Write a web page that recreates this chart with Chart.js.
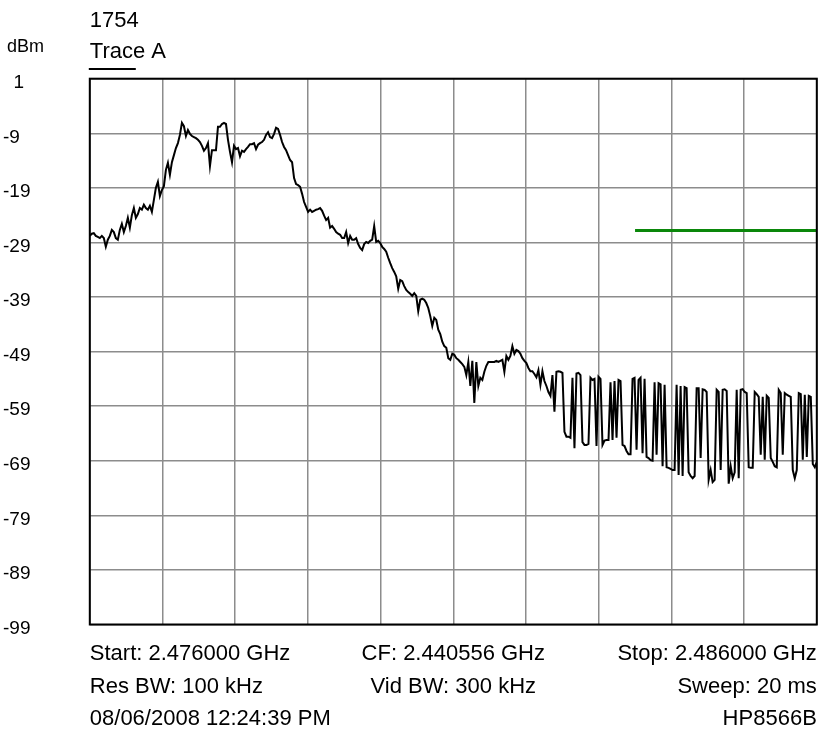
<!DOCTYPE html>
<html>
<head>
<meta charset="utf-8">
<script src="https://cdn.jsdelivr.net/npm/chart.js@4.4.1/dist/chart.umd.min.js"></script>
<style>
html,body{margin:0;padding:0;background:#ffffff;}
#wrap{width:820px;height:729px;position:relative;}
</style>
</head>
<body>
<div id="wrap"><canvas id="c" width="820" height="729"></canvas></div>
<script>
// ---- data ----
const startMHz = 2476;
const stopMHz = 2486;
const freqGridMHz = [2476, 2477, 2478, 2479, 2480, 2481, 2482, 2483, 2484, 2485, 2486];

// Trace A levels (dBm), evenly spaced across the sweep
const traceLevels = [
  -27.8, -27.4, -27.3, -27.8, -28.0, -28.2, -27.8, -28.2, -29.8, -28.5,
  -27.8, -26.7, -27.1, -28.2, -28.5, -26.7, -25.6, -27.1, -26.0, -24.5,
  -26.3, -24.0, -22.7, -24.5, -23.8, -22.7, -23.0, -22.1, -22.7, -23.0,
  -22.3, -23.4, -21.2, -19.0, -17.9, -20.5, -19.4, -18.7, -15.7, -14.4,
  -16.6, -14.3, -13.0, -11.7, -10.8, -9.3, -7.1, -7.7, -9.5, -8.4,

  -9.1, -9.5, -9.7, -9.9, -10.2, -10.6, -11.3, -12.2, -11.7, -10.8,
  -15.0, -12.1, -12.1, -12.1, -7.8, -7.8, -7.3, -7.1, -7.3, -10.2,
  -12.4, -14.3, -11.3, -11.9, -11.7, -13.2, -12.2, -12.4, -11.9, -11.5,
  -11.0, -11.0, -10.8, -11.9, -11.1, -10.8, -10.6, -10.2, -9.3, -8.8,
  -9.7, -9.9, -9.1, -8.0, -8.2, -9.3, -10.6, -11.5, -12.1, -13.0,

  -13.9, -14.3, -17.2, -18.3, -18.5, -18.8, -20.1, -21.6, -22.5, -23.4,
  -23.0, -23.4, -23.2, -23.0, -22.9, -22.7, -23.2, -24.1, -24.9, -24.5,
  -26.3, -26.0, -26.5, -27.1, -27.4, -27.6, -28.2, -28.2, -27.1, -29.1,
  -27.8, -28.5, -28.5, -28.2, -29.3, -30.0, -30.4, -29.3, -28.9, -29.1,
  -28.7, -28.5, -26.0, -28.9, -28.7, -29.1, -29.8, -30.2, -30.7, -31.8,

  -32.8, -33.7, -34.4, -35.2, -37.5, -35.9, -36.1, -37.0, -37.7, -38.1,
  -38.4, -38.8, -38.3, -38.8, -41.6, -39.5, -39.3, -39.5, -40.1, -41.0,
  -42.5, -44.3, -42.8, -43.2, -45.0, -45.8, -47.2, -48.0, -48.3, -50.2,
  -50.5, -49.4, -49.6, -50.2, -50.5, -50.9, -51.3, -51.8, -53.3, -50.9,
  -55.3, -50.7, -58.4, -50.9, -55.3, -53.8, -54.2, -52.7, -51.6, -50.9,

  -50.9, -50.9, -50.9, -50.7, -50.9, -50.7, -50.5, -52.7, -49.8, -50.5,
  -49.8, -48.0, -49.4, -48.7, -48.9, -49.4, -50.2, -50.7, -51.1, -52.0,
  -52.6, -52.6, -53.1, -53.7, -52.4, -55.1, -52.6, -54.4, -55.3, -56.4,
  -57.1, -53.3, -60.0, -52.7, -52.6, -52.7,

  -52.9, -63.7, -64.6, -64.6, -64.8, -53.8, -66.7, -53.0, -52.9, -53.3,
  -65.6, -66.1, -66.1, -65.9, -53.8, -54.2, -54.0, -66.3, -53.6, -54.0,
  -66.1, -65.3, -65.2, -65.2, -54.6, -65.2, -54.4, -64.8, -54.2, -54.4,
  -66.1, -66.3, -67.2, -67.8, -67.8, -54.0, -53.8, -67.0, -54.2, -53.8,
  -67.6, -54.0, -68.3, -68.5, -68.9, -69.0, -54.6, -67.9, -54.8, -55.0,
  -70.0, -55.1, -70.2, -70.3, -70.5, -70.7, -70.7, -55.1, -71.6, -55.3,
  -71.8, -55.5, -55.7, -71.1, -71.8, -72.2, -71.8, -55.7, -55.7, -68.5,
  -55.9, -56.0, -56.4, -72.5, -70.7, -72.9, -72.5, -56.0, -56.4, -70.7,
  -56.0, -55.9, -56.2, -73.2, -70.0, -72.2, -71.1, -56.0, -72.2, -56.0,
  -55.9, -56.4, -56.6, -70.2, -70.3, -70.3, -56.4, -56.8, -57.3, -67.9,
  -57.3, -68.8, -57.1, -57.5, -68.5, -69.2, -70.0, -70.2, -56.0, -56.6,
  -67.9, -56.6, -56.9, -57.1, -57.3, -70.7, -72.2, -70.7, -56.6, -56.8,
  -68.8, -56.9, -68.3, -57.1, -57.3, -69.6, -70.2, -69.2
];

// limit line (green)
const limitFreqs = [2483.5, 2486];
const limitLevels = [-26.8, -26.8];

// y axis
const yTicks = [1, -9, -19, -29, -39, -49, -59, -69, -79, -89, -99];
const yTickLabels = ['  1', '-9', '-19', '-29', '-39', '-49', '-59', '-69', '-79', '-89', '-99'];

// texts
const headerTitle = '1754';
const traceName = 'Trace A';
const yUnit = 'dBm';
const footerLeft = ['Start: 2.476000 GHz', 'Res BW: 100 kHz', '08/06/2008 12:24:39 PM'];
const footerCenter = ['CF: 2.440556 GHz', 'Vid BW: 300 kHz', ''];
const footerRight = ['Stop: 2.486000 GHz', 'Sweep: 20 ms', 'HP8566B'];

// ---- build ----
const FONT = '"Liberation Sans", Arial, Helvetica, sans-serif';
const stepMHz = (stopMHz - startMHz) / (traceLevels.length - 1);
const tracePoints = traceLevels.map((v, i) => ({ x: startMHz + i * stepMHz, y: v }));
const limitPoints = limitFreqs.map((f, i) => ({ x: f, y: limitLevels[i] }));

const annot = {
  id: 'annot',
  afterDraw(chart) {
    const { ctx, chartArea: a } = chart;
    ctx.save();
    ctx.strokeStyle = '#000';
    ctx.lineWidth = 2;
    ctx.strokeRect(a.left, a.top, a.right - a.left, a.bottom - a.top);

    ctx.fillStyle = '#000';
    ctx.textBaseline = 'alphabetic';
    ctx.textAlign = 'left';
    ctx.font = '22px ' + FONT;
    ctx.fillText(headerTitle, a.left, 27);
    ctx.fillText(traceName, a.left, 58);
    ctx.beginPath();
    ctx.lineWidth = 2;
    ctx.moveTo(a.left - 1, 69);
    ctx.lineTo(a.left + 46, 69);
    ctx.stroke();

    ctx.font = '18px ' + FONT;
    ctx.fillText(yUnit, 7, 52);

    ctx.font = '22px ' + FONT;
    const rows = [660, 693, 725];
    const cx = (a.left + a.right) / 2;
    rows.forEach((yy, r) => {
      ctx.textAlign = 'left';
      ctx.fillText(footerLeft[r], a.left, yy);
      ctx.textAlign = 'center';
      if (footerCenter[r]) ctx.fillText(footerCenter[r], cx, yy);
      ctx.textAlign = 'right';
      ctx.fillText(footerRight[r], a.right, yy);
    });
    ctx.restore();
  }
};

new Chart(document.getElementById('c'), {
  type: 'line',
  data: {
    datasets: [
      {
        label: traceName,
        data: tracePoints,
        borderColor: '#000000',
        borderWidth: 2,
        pointRadius: 0,
        tension: 0,
        fill: false
      },
      {
        label: 'Limit',
        data: limitPoints,
        borderColor: '#0a870a',
        borderWidth: 3,
        pointRadius: 0,
        fill: false
      }
    ]
  },
  options: {
    responsive: false,
    animation: false,
    devicePixelRatio: 1,
    layout: { padding: { left: 3, top: 78.7, right: 3.2, bottom: 104.5 } },
    plugins: { legend: { display: false }, tooltip: { enabled: false }, title: { display: false } },
    scales: {
      x: {
        type: 'linear',
        min: startMHz,
        max: stopMHz,
        afterBuildTicks: (s) => { s.ticks = freqGridMHz.map(v => ({ value: v })); },
        afterFit: (s) => { s.height = 0; },
        ticks: { display: false },
        grid: { color: '#8c8c8c', lineWidth: 1.5, drawTicks: false },
        border: { display: false }
      },
      y: {
        type: 'linear',
        min: -99,
        max: 1,
        afterBuildTicks: (s) => { s.ticks = yTicks.map(v => ({ value: v })); },
        afterFit: (s) => { s.width = 86.8; },
        ticks: {
          crossAlign: 'far',
          color: '#000',
          font: { family: FONT, size: 19 },
          labelOffset: 4,
          callback: (v) => yTickLabels[yTicks.indexOf(v)]
        },
        grid: { color: '#8c8c8c', lineWidth: 1.5, drawTicks: false },
        border: { display: false }
      }
    }
  },
  plugins: [annot]
});
</script>
</body>
</html>
